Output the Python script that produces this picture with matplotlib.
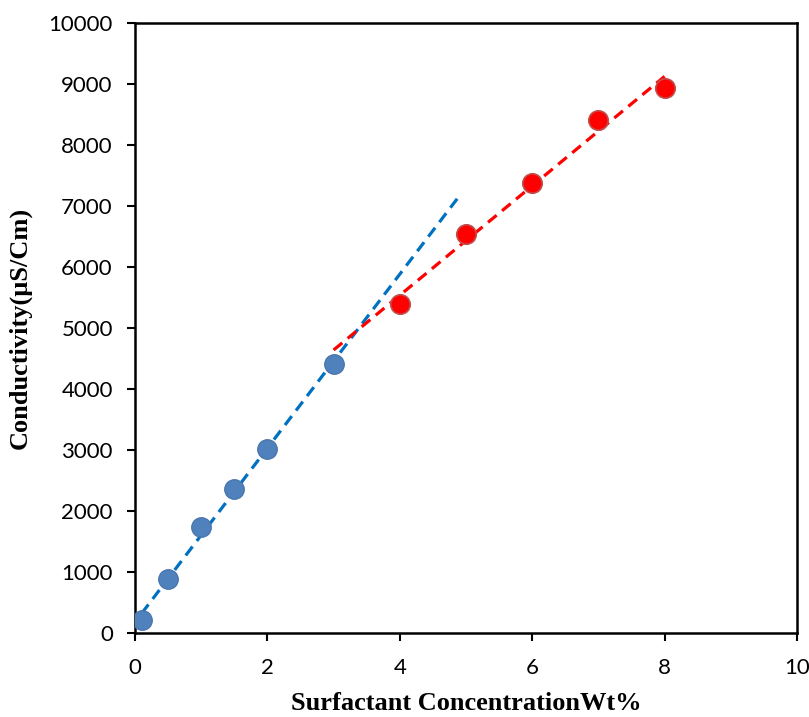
import matplotlib
matplotlib.use('Agg')
import matplotlib.pyplot as plt
import numpy as np

# data
x_low = [0.1, 0.5, 1.0, 1.5, 2.0, 3.0]
y_low = [220, 890, 1730, 2360, 3010, 4410]
x_high = [4.0, 5.0, 6.0, 7.0, 8.0]
y_high = [5390, 6540, 7370, 8410, 8940]

# extent of the trendlines
fit_low_range = [0.1, 4.9]
fit_high_range = [3.0, 8.0]

fig = plt.figure(figsize=(8.09, 7.17), dpi=100)
ax = fig.add_axes([0.1669, 0.1172, 0.8183, 0.8508])

p_low = np.polyfit(x_low, y_low, 1)
p_high = np.polyfit(x_high, y_high, 1)
xl = np.array(fit_low_range)
xh = np.array(fit_high_range)
ax.plot(xl, np.polyval(p_low, xl), color='#0070C0', lw=2.3, dashes=(3.5, 2.2), zorder=2)
ax.plot(xh, np.polyval(p_high, xh), color='#FF0000', lw=2.3, dashes=(3.5, 2.2), zorder=2)

ax.plot(x_low, y_low, 'o', ms=14, color='#4F81BD', mec='#4A76AE', mew=1, zorder=3)
ax.plot(x_high, y_high, 'o', ms=14, color='#FF0000', mec='#C0504D', mew=1.2, zorder=3)

ax.set_xlim(0, 10)
ax.set_ylim(0, 10000)
ax.set_xticks(np.arange(0, 11, 2))
ax.set_yticks(np.arange(0, 10001, 1000))
ax.tick_params(direction='out', length=6, width=1.5, labelsize=16, pad=10)
ax.tick_params(axis='x', pad=12)
for lab in ax.get_xticklabels() + ax.get_yticklabels():
    lab.set_family('Lato')
for s in ax.spines.values():
    s.set_linewidth(1.8)

ax.set_xlabel('Surfactant ConcentrationWt%', fontsize=19, fontweight='bold',
              family='Liberation Serif', labelpad=10)
ax.set_ylabel('Conductivity(µS/Cm)', fontsize=19, fontweight='bold',
              family='Liberation Serif', labelpad=12)

fig.savefig('out.png', dpi=100)
